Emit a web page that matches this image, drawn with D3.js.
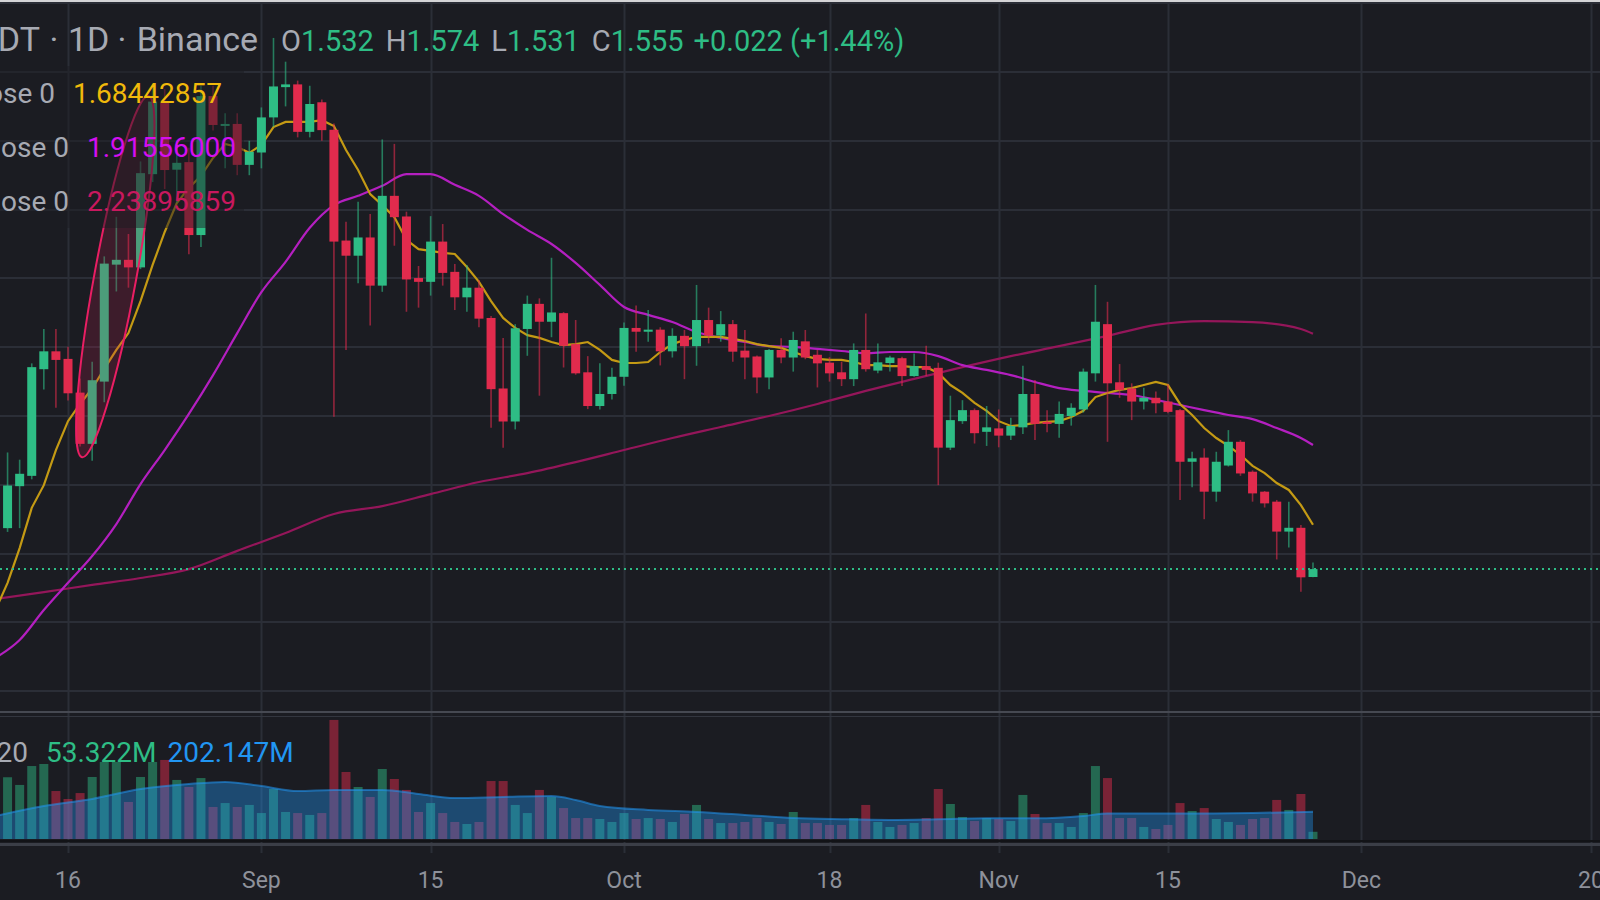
<!doctype html>
<html>
<head>
<meta charset="utf-8"/>
<title>ADAUSDT 1D</title>
<script src="https://cdnjs.cloudflare.com/ajax/libs/d3/7.8.5/d3.min.js"></script>
<style>
  body { margin:0; background:#1b1c22; overflow:hidden; }
  svg text { font-family: Roboto, "Noto Sans", sans-serif; }
</style>
</head>
<body>
<script>
// ---- data (daily candles, 2021-08-10 .. 2021-11-27) ----
const firstDay = '2021-08-10';
const open  = [1.490,1.674,1.796,1.826,2.136,2.188,2.166,2.068,1.919,2.100,
               2.440,2.454,2.432,2.703,2.912,2.716,2.738,2.526,2.930,2.846,
               2.849,2.730,2.766,2.868,2.956,2.964,2.826,2.912,2.832,2.510,
               2.466,2.519,2.379,2.640,2.580,2.401,2.390,2.507,2.419,2.345,
               2.373,2.285,2.080,1.984,2.253,2.326,2.274,2.299,2.209,2.127,
               2.029,2.064,2.114,2.256,2.245,2.251,2.188,2.233,2.203,2.279,
               2.234,2.267,2.190,2.173,2.112,2.192,2.170,2.217,2.178,2.155,
               2.127,2.107,2.192,2.132,2.154,2.168,2.116,2.145,2.140,1.908,
               1.985,2.017,1.954,1.964,1.943,1.967,2.064,1.983,1.977,2.000,
               2.019,2.124,2.267,2.098,2.080,2.042,2.053,2.042,2.017,1.867,
               1.879,1.780,1.856,1.925,1.838,1.780,1.751,1.664,1.675,1.532];
const high  = [1.700,1.894,1.873,2.153,2.253,2.253,2.201,2.109,2.158,2.464,
               2.579,2.529,2.740,2.960,2.950,2.800,2.780,2.960,2.960,2.880,
               2.880,2.800,2.897,3.099,3.030,2.975,2.960,2.920,2.850,2.565,
               2.623,2.587,2.804,2.791,2.594,2.436,2.581,2.558,2.442,2.439,
               2.395,2.291,2.227,2.267,2.350,2.342,2.460,2.302,2.279,2.174,
               2.153,2.140,2.272,2.321,2.308,2.258,2.255,2.250,2.381,2.315,
               2.305,2.279,2.250,2.176,2.195,2.226,2.245,2.250,2.192,2.171,
               2.158,2.211,2.298,2.211,2.175,2.172,2.182,2.204,2.155,2.059,
               2.046,2.022,2.029,2.019,1.995,2.146,2.105,2.017,2.042,2.037,
               2.138,2.381,2.332,2.151,2.095,2.082,2.071,2.092,2.020,1.896,
               1.906,1.896,1.959,1.930,1.842,1.782,1.756,1.751,1.683,1.574];
const low   = [1.470,1.663,1.674,1.816,2.077,2.024,2.045,1.911,1.870,2.040,
               2.362,2.373,2.427,2.680,2.660,2.620,2.470,2.491,2.830,2.720,
               2.700,2.700,2.720,2.840,2.900,2.810,2.810,2.800,1.998,2.192,
               2.386,2.263,2.361,2.495,2.303,2.315,2.350,2.379,2.308,2.303,
               2.258,1.966,1.908,1.961,2.175,2.059,2.229,2.141,2.120,2.020,
               2.019,2.048,2.088,2.187,2.216,2.147,2.170,2.107,2.146,2.211,
               2.216,2.158,2.107,2.066,2.078,2.153,2.129,2.165,2.083,2.100,
               2.087,2.087,2.129,2.124,2.129,2.087,2.114,2.116,1.799,1.901,
               1.977,1.920,1.913,1.909,1.930,1.948,1.930,1.953,1.937,1.972,
               2.010,2.100,1.925,2.053,1.988,2.019,2.008,2.008,1.756,1.793,
               1.700,1.751,1.853,1.826,1.751,1.734,1.583,1.618,1.489,1.531];
const close = [1.674,1.798,1.832,2.142,2.188,2.163,2.066,1.919,2.104,2.443,
               2.454,2.432,2.706,2.914,2.715,2.736,2.526,2.930,2.846,2.849,
               2.730,2.768,2.868,2.958,2.964,2.826,2.907,2.831,2.507,2.466,
               2.519,2.379,2.640,2.578,2.397,2.390,2.507,2.416,2.345,2.373,
               2.283,2.078,1.984,2.255,2.326,2.274,2.301,2.204,2.124,2.029,
               2.064,2.114,2.256,2.245,2.251,2.188,2.233,2.203,2.279,2.234,
               2.267,2.187,2.170,2.112,2.192,2.170,2.221,2.170,2.153,2.124,
               2.107,2.192,2.136,2.156,2.170,2.116,2.145,2.134,1.908,1.988,
               2.017,1.950,1.967,1.943,1.971,2.064,1.977,1.977,2.006,2.024,
               2.129,2.274,2.095,2.076,2.042,2.053,2.037,2.012,1.867,1.877,
               1.780,1.867,1.925,1.833,1.775,1.746,1.664,1.675,1.531,1.555];
// volume in millions
const volume = [400,457,400,540,555,355,296,340,459,570,
                570,274,459,570,585,437,385,451,237,266,
                237,252,192,370,200,192,178,192,881,496,
                385,311,518,444,363,200,266,192,126,111,
                126,429,429,252,192,363,311,229,155,155,
                148,126,192,148,155,148,126,185,252,148,
                118,118,126,155,126,111,200,118,118,104,
                104,155,252,126,89,104,118,155,370,259,
                163,133,155,148,133,326,185,118,118,89,
                192,540,451,155,155,89,74,104,266,207,
                229,148,126,104,148,155,289,215,333,53.322];
// MA 7 close, one value per day
const ma7 = [1.436,1.515,1.616,1.733,1.799,1.901,1.985,2.035,2.080,2.137,
             2.192,2.241,2.334,2.439,2.535,2.619,2.663,2.698,2.750,2.791,
             2.782,2.765,2.788,2.840,2.855,2.855,2.855,2.860,2.843,2.773,
             2.715,2.645,2.613,2.578,2.512,2.485,2.480,2.474,2.471,2.433,
             2.390,2.334,2.285,2.256,2.235,2.227,2.215,2.206,2.209,2.215,
             2.192,2.163,2.154,2.154,2.157,2.186,2.209,2.221,2.230,2.230,
             2.230,2.224,2.218,2.209,2.203,2.198,2.186,2.174,2.166,2.163,
             2.163,2.157,2.148,2.148,2.145,2.145,2.142,2.142,2.125,2.090,
             2.067,2.038,2.015,1.985,1.971,1.974,1.980,1.983,1.985,1.997,
             2.015,2.055,2.067,2.076,2.081,2.090,2.099,2.090,2.035,2.003,
             1.965,1.936,1.913,1.887,1.855,1.834,1.805,1.785,1.741,1.684];
// MA 25 close, read every second day
const ma25 = [['08-10',1.297],['08-12',1.349],['08-14',1.436],['08-16',1.515],['08-18',1.593],
              ['08-20',1.686],['08-22',1.802],['08-24',1.901],['08-26',2.006],['08-28',2.119],
              ['08-30',2.241],['09-01',2.360],['09-03',2.448],['09-05',2.547],['09-07',2.613],
              ['09-09',2.640],['09-11',2.669],['09-13',2.703],['09-15',2.703],['09-17',2.672],
              ['09-19',2.640],['09-21',2.587],['09-23',2.541],['09-25',2.500],['09-27',2.445],
              ['09-29',2.381],['10-01',2.317],['10-03',2.294],['10-05',2.273],['10-07',2.244],
              ['10-09',2.227],['10-11',2.215],['10-13',2.203],['10-15',2.201],['10-17',2.195],
              ['10-19',2.189],['10-21',2.183],['10-23',2.186],['10-25',2.186],['10-27',2.174],
              ['10-29',2.148],['10-31',2.134],['11-02',2.119],['11-04',2.099],['11-06',2.081],
              ['11-08',2.073],['11-10',2.067],['11-12',2.061],['11-14',2.047],['11-16',2.032],
              ['11-18',2.017],['11-20',2.003],['11-22',1.991],['11-24',1.965],['11-26',1.936],
              ['11-27',1.91556]];
// MA 99 close, read every fourth day
const ma99 = [['08-10',1.468],['08-14',1.488],['08-18',1.509],['08-22',1.529],['08-26',1.555],
              ['08-30',1.608],['09-03',1.660],['09-07',1.715],['09-11',1.738],['09-15',1.773],
              ['09-19',1.808],['09-23',1.834],['09-27',1.866],['10-01',1.901],['10-05',1.936],
              ['10-09',1.968],['10-13',2.000],['10-17',2.035],['10-21',2.073],['10-25',2.108],
              ['10-29',2.142],['11-02',2.174],['11-06',2.203],['11-10',2.233],['11-14',2.265],
              ['11-18',2.276],['11-22',2.273],['11-26',2.253],['11-27',2.23896]];
// volume MA 20 (millions)
const volMa = [['08-10',170],['08-14',244],['08-18',296],['08-22',370],['08-26',407],
               ['08-29',422],['09-01',392],['09-04',355],['09-07',363],['09-11',363],
               ['09-14',333],['09-17',303],['09-21',311],['09-25',318],['09-27',289],
               ['09-29',244],['10-03',215],['10-07',200],['10-11',178],['10-15',155],
               ['10-19',146],['10-23',141],['10-27',146],['10-31',153],['11-04',153],
               ['11-08',170],['11-10',189],['11-14',189],['11-18',189],['11-22',192],
               ['11-27',202.147]];
const priceTicks = [1.2,1.4,1.6,1.8,2.0,2.2,2.4,2.6,2.8,3.0,3.2];
const timeTicks = [['2021-08-16','16'],['2021-09-01','Sep'],['2021-09-15','15'],['2021-10-01','Oct'],
                   ['2021-10-18','18'],['2021-11-01','Nov'],['2021-11-15','15'],['2021-12-01','Dec'],
                   ['2021-12-20','20']];
const lastBar = {o:'1.532', h:'1.574', l:'1.531', c:'1.555', chg:'+0.022 (+1.44%)'};

// ---- setup ----
const W = 1600, H = 900;
const C = {bg:'#1b1c22', grid:'#2b2e37', up:'#2ebd85', down:'#e12b4d', text:'#a7aab3',
           ma7:'#c49a14', ma7t:'#f0b90b', ma25:'#b41fc0', ma25t:'#d50ff0', ma99:'#94165a', ma99t:'#c8185e',
           vol:'#2196f3'};
const parse = d3.utcParse('%Y-%m-%d');
const start = parse(firstDay);
const bars = close.map((c,i)=>({date:d3.utcDay.offset(start,i), o:open[i], h:high[i], l:low[i], c:c, v:volume[i], ma7:ma7[i]}));
const pts = arr => arr.map(d=>({date:parse('2021-'+d[0]), v:d[1]}));

const x  = d3.scaleUtc().domain([parse('2021-08-16'), parse('2021-12-20')]).range([68, 1591]);
const y  = d3.scaleLinear().domain([1.2, 3.0]).range([691.2, 72]);
const yv = d3.scaleLinear().domain([0, 740]).range([839, 739]);

const svg = d3.select('body').append('svg').attr('width', W).attr('height', H);
svg.append('rect').attr('width', W).attr('height', H).attr('fill', C.bg);

const defs = svg.append('defs');
defs.append('clipPath').attr('id','main').append('rect').attr('x',0).attr('y',0).attr('width',W).attr('height',711);
defs.append('clipPath').attr('id','volc').append('rect').attr('x',0).attr('y',717).attr('width',W).attr('height',124);

// vertical grid (both panes + ticks)
svg.append('g').selectAll('line').data(timeTicks).join('line')
  .attr('x1', d=>Math.round(x(parse(d[0])))+0.5).attr('x2', d=>Math.round(x(parse(d[0])))+0.5)
  .attr('y1', 0).attr('y2', 853)
  .attr('stroke', C.grid).attr('stroke-width', 2);

const main = svg.append('g').attr('clip-path','url(#main)');
main.append('g').selectAll('line').data(priceTicks).join('line')
  .attr('x1', 0).attr('x2', W)
  .attr('y1', d=>Math.round(y(d))).attr('y2', d=>Math.round(y(d)))
  .attr('stroke', C.grid).attr('stroke-width', 2);

// MA lines behind candles
const lineD = d3.line().x(d=>x(d.date)).y(d=>y(d.v)).curve(d3.curveMonotoneX);
main.append('path').attr('d', lineD(pts(ma99))).attr('fill','none').attr('stroke',C.ma99).attr('stroke-width',2.2);
main.append('path').attr('d', lineD(pts(ma25))).attr('fill','none').attr('stroke',C.ma25).attr('stroke-width',2.2);
main.append('path').attr('d', d3.line().x(d=>x(d.date)).y(d=>y(d.ma7))(bars))
  .attr('fill','none').attr('stroke',C.ma7).attr('stroke-width',2.2);

// candles
const bw = 9;
const cg = main.append('g');
cg.selectAll('line').data(bars).join('line')
  .attr('x1', d=>x(d.date)).attr('x2', d=>x(d.date))
  .attr('y1', d=>y(d.h)).attr('y2', d=>y(d.l))
  .attr('stroke', d=>d.c>=d.o?C.up:C.down).attr('stroke-opacity',0.6).attr('stroke-width',1.6);
cg.selectAll('rect').data(bars).join('rect')
  .attr('x', d=>x(d.date)-bw/2).attr('width', bw)
  .attr('y', d=>y(Math.max(d.o,d.c)))
  .attr('height', d=>Math.max(2, Math.abs(y(d.o)-y(d.c))))
  .attr('fill', d=>d.c>=d.o?C.up:C.down);

// drawn ellipse (user drawing)
const e0 = bars[7], e1 = bars[12];
const ex0 = x(e0.date)+2, ey0 = y(1.88), ex1 = x(e1.date)+8, ey1 = y(2.93);
const ecx = (ex0+ex1)/2, ecy = (ey0+ey1)/2;
const elen = Math.hypot(ex1-ex0, ey1-ey0)/2;
const eang = Math.atan2(ex1-ex0, ey0-ey1)*180/Math.PI;
main.append('ellipse').attr('cx',ecx).attr('cy',ecy).attr('rx',21).attr('ry',elen)
  .attr('transform',`rotate(${eang},${ecx},${ecy})`)
  .attr('fill','rgba(200,30,80,0.2)').attr('stroke','#e91e63').attr('stroke-width',2);

// last price line
main.append('line').attr('x1',0).attr('x2',W).attr('y1',y(close[close.length-1])).attr('y2',y(close[close.length-1]))
  .attr('stroke',C.up).attr('stroke-width',2).attr('stroke-dasharray','2 4');

// legend backdrop dims what lies beneath
main.append('rect').attr('x',-5).attr('y',66).attr('width',249).attr('height',162).attr('fill',C.bg).attr('opacity',0.5);

// ---- volume pane ----
const vg = svg.append('g').attr('clip-path','url(#volc)');
vg.selectAll('rect').data(bars).join('rect')
  .attr('x', d=>x(d.date)-bw/2).attr('width', bw)
  .attr('y', d=>yv(d.v)).attr('height', d=>yv(0)-yv(d.v))
  .attr('fill', d=>d.c>=d.o?C.up:C.down).attr('opacity',0.48);
const vArea = d3.area().x(d=>x(d.date)).y0(yv(0)).y1(d=>yv(d.v)).curve(d3.curveMonotoneX);
vg.append('path').attr('d', vArea(pts(volMa))).attr('fill','rgba(33,150,243,0.38)');
vg.append('path').attr('d', d3.line().x(d=>x(d.date)).y(d=>yv(d.v)).curve(d3.curveMonotoneX)(pts(volMa)))
  .attr('fill','none').attr('stroke','rgba(33,150,243,0.55)').attr('stroke-width',2);

// pane borders
svg.append('rect').attr('x',0).attr('y',711).attr('width',W).attr('height',2).attr('fill','#464952');
svg.append('rect').attr('x',0).attr('y',716).attr('width',W).attr('height',1).attr('fill','#33363f');
svg.append('rect').attr('x',0).attr('y',840).attr('width',W).attr('height',2).attr('fill','#121317');
svg.append('rect').attr('x',0).attr('y',843).attr('width',W).attr('height',3).attr('fill','#3b3e47');
svg.append('rect').attr('x',0).attr('y',0).attr('width',W).attr('height',2).attr('fill','#d4d4d6');

// time axis labels
svg.append('g').selectAll('text').data(timeTicks).join('text')
  .attr('x', d=>x(parse(d[0]))).attr('y', 888)
  .attr('text-anchor','middle').attr('font-size',23).attr('fill','#8e919a')
  .text(d=>d[1]);

// ---- legends ----
function row(g, x0, yb, size, parts) {
  let cx = x0;
  parts.forEach(p => {
    cx += p.gap || 0;
    const t = g.append('text').attr('x', cx).attr('y', yb).attr('font-size', size)
      .attr('fill', p.color).text(p.text);
    cx += t.node().getComputedTextLength();
  });
}
const lg = svg.append('g');
// symbol title, pieces placed as in the screenshot (left part runs off the edge)
const title = [['ADAUSDT',40,'end'],['·',54,'middle'],['1D',68,'start'],['·',122,'middle'],['Binance',258,'end']];
lg.selectAll('text.title').data(title).join('text').attr('class','title')
  .attr('x', d=>d[1]).attr('y', 51).attr('text-anchor', d=>d[2]).attr('font-size', 34)
  .attr('fill', C.text).text(d=>d[0]);
row(lg, 281, 51, 29, [
  {text:'O', color:C.text}, {text:lastBar.o, color:C.up},
  {text:'H', color:C.text, gap:12}, {text:lastBar.h, color:C.up},
  {text:'L', color:C.text, gap:12}, {text:lastBar.l, color:C.up},
  {text:'C', color:C.text, gap:12}, {text:lastBar.c, color:C.up},
  {text:lastBar.chg, color:C.up, gap:10}
]);
const maRows = [
  {label:'MA 7 close 0', end:55, val:'1.68442857', color:C.ma7t, yb:103},
  {label:'MA 25 close 0', end:69, val:'1.91556000', color:C.ma25t, yb:157},
  {label:'MA 99 close 0', end:69, val:'2.23895859', color:C.ma99t, yb:211}
];
maRows.forEach(r => {
  lg.append('text').attr('x', r.end).attr('y', r.yb).attr('text-anchor','end').attr('font-size',28)
    .attr('fill',C.text).text(r.label);
  lg.append('text').attr('x', r.end+18).attr('y', r.yb).attr('font-size',28)
    .attr('fill',r.color).text(r.val);
});
lg.append('text').attr('x',28).attr('y',762).attr('text-anchor','end').attr('font-size',28)
  .attr('fill',C.text).text('Vol 20');
row(lg, 46, 762, 28, [
  {text: d3.format('.3f')(volume[volume.length-1])+'M', color:C.up},
  {text: d3.format('.3f')(volMa[volMa.length-1][1])+'M', color:C.vol, gap:11}
]);
</script>
</body>
</html>
